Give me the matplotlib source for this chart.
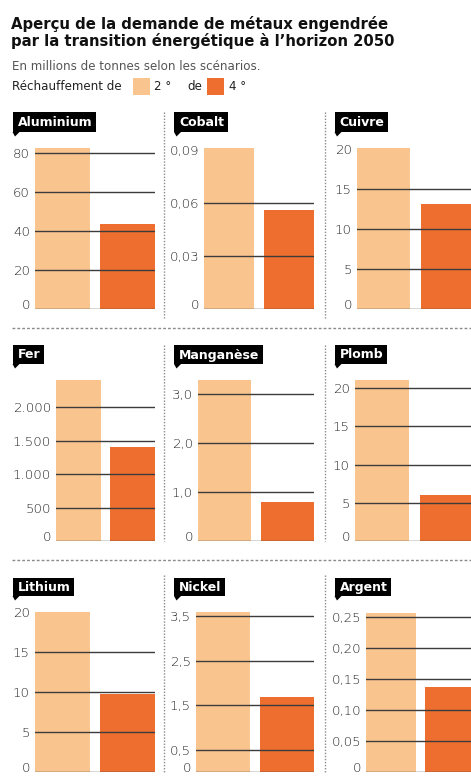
import matplotlib
matplotlib.use('Agg')
import matplotlib.pyplot as plt
from matplotlib.patches import Rectangle, Polygon
from matplotlib.lines import Line2D

### data (millions de tonnes) ###
metals      = ['Aluminium', 'Cobalt', 'Cuivre',
               'Fer', 'Manganèse', 'Plomb',
               'Lithium', 'Nickel', 'Argent']
demand_2deg = [82.2, 0.091, 20.1, 2410, 3.29, 21.0, 20.0, 3.6, 0.257]
demand_4deg = [43.4, 0.056, 13.1, 1405, 0.80, 6.0, 9.7, 1.7, 0.137]

tick_values = [[0, 20, 40, 60, 80], [0, 0.03, 0.06, 0.09], [0, 5, 10, 15, 20],
               [0, 500, 1000, 1500, 2000], [0, 1, 2, 3], [0, 5, 10, 15, 20],
               [0, 5, 10, 15, 20], [0, 0.5, 1.5, 2.5, 3.5],
               [0, 0.05, 0.10, 0.15, 0.20, 0.25]]
tick_labels = [['0', '20', '40', '60', '80'], ['0', '0,03', '0,06', '0,09'],
               ['0', '5', '10', '15', '20'],
               ['0', '500', '1.000', '1.500', '2.000'], ['0', '1,0', '2,0', '3,0'],
               ['0', '5', '10', '15', '20'],
               ['0', '5', '10', '15', '20'], ['0', '0,5', '1,5', '2,5', '3,5'],
               ['0', '0,05', '0,10', '0,15', '0,20', '0,25']]
# ticks that carry a label but no grid line
no_grid = {1: [0.09], 2: [20], 6: [20]}

### layout (pixels, origin top-left) ###
W, H = 471, 778
C_LIGHT = '#f9c48e'
C_DARK = '#ed6e2f'
GRID = '#3c3c3c'
FONT = 'DejaVu Sans'

ax_left  = [35, 204, 357, 56, 198, 355, 35, 196, 366]
ax_right = [155, 314, 474, 155, 314, 474, 155, 314, 475]
ymax     = [83.9, 0.0928, 20.5, 2485, 3.39, 21.7, 20.6, 3.71, 0.266]
row_base = [309, 541, 772.3]
row_top  = [145, 375, 607]
box_top  = [112, 345, 578]
box_bot  = [132, 364, 596]
box_left = [12.5, 174, 334.5]
vsep     = [(112, 318), (345, 541), (575, 772)]

fig = plt.figure(figsize=(W / 100, H / 100), dpi=100)

def fx(x):
    return x / W

def fy(y):
    return 1 - y / H

### header ###
fig.text(fx(11), fy(16), 'Aperçu de la demande de métaux engendrée\npar la transition énergétique à l\u2019horizon 2050',
         family=FONT, fontweight='bold', fontsize=10.7, color='#111111', va='top', ha='left', linespacing=1.1)
fig.text(fx(12), fy(67), 'En millions de tonnes selon les scénarios.',
         family=FONT, fontsize=8.6, color='#555555', va='center', ha='left')
fig.text(fx(12), fy(86), 'Réchauffement de', family=FONT, fontsize=8.6, color='#222222', va='center')
fig.add_artist(Rectangle((fx(133), fy(95)), fx(17), 17 / H, transform=fig.transFigure, color=C_LIGHT, lw=0))
fig.text(fx(154), fy(86), '2 °', family=FONT, fontsize=8.6, color='#222222', va='center')
fig.text(fx(187), fy(86), 'de', family=FONT, fontsize=8.6, color='#222222', va='center')
fig.add_artist(Rectangle((fx(207), fy(95)), fx(17), 17 / H, transform=fig.transFigure, color=C_DARK, lw=0))
fig.text(fx(229), fy(86), '4 °', family=FONT, fontsize=8.6, color='#222222', va='center')

renderer = fig.canvas.get_renderer()
w = 0.84

for i, name in enumerate(metals):
    row, col = divmod(i, 3)
    base, top = row_base[row], row_top[row]
    ax = fig.add_axes([fx(ax_left[i]), fy(base), fx(ax_right[i] - ax_left[i]), (base - top) / H])
    ax.bar([0, 1], [demand_2deg[i], demand_4deg[i]], width=w, color=[C_LIGHT, C_DARK], zorder=1)
    for v in tick_values[i]:
        if v in no_grid.get(i, []):
            continue
        ax.axhline(v, color=GRID, lw=1.0, zorder=3)
    ax.set_xlim(-w / 2, 1 + w / 2)
    ax.set_ylim(0, ymax[i])
    ax.set_xticks([])
    ax.set_yticks(tick_values[i], tick_labels[i])
    ax.tick_params(axis='y', length=0, pad=3.6, labelsize=9.6, labelcolor='#262626')
    for lbl in ax.get_yticklabels():
        lbl.set_family(FONT)
        lbl.set_fontweight('light')
    # the zero label sits on the base line
    ax.get_yticklabels()[0].set_verticalalignment('baseline')
    for s in ax.spines.values():
        s.set_visible(False)
    ax.patch.set_alpha(0)

    # black name tag with a small pointer
    bl, bt, bb = box_left[col], box_top[row], box_bot[row]
    t = fig.text(fx(bl + 5), fy((bt + bb) / 2 + 0.5), name, family=FONT, fontweight='bold',
                 fontsize=9.0, color='white', va='center', ha='left', zorder=6)
    tw = t.get_window_extent(renderer).width
    fig.add_artist(Rectangle((fx(bl), fy(bb)), fx(tw + 9), (bb - bt) / H,
                             transform=fig.transFigure, color='black', lw=0, zorder=5))
    fig.add_artist(Polygon([(fx(bl), fy(bb)), (fx(bl + 7), fy(bb)), (fx(bl + 2.5), fy(bb + 4.5))],
                           closed=True, transform=fig.transFigure, color='black', lw=0, zorder=5))

### separators ###
for (y0, y1) in vsep:
    for x in (164, 324.5):
        fig.add_artist(Line2D([fx(x), fx(x)], [fy(y0), fy(y1)], transform=fig.transFigure,
                              color='#8a8a8a', lw=1.0, ls=(0, (1, 1.2))))
for y in (327.7, 559.5):
    fig.add_artist(Line2D([fx(12), 1], [fy(y), fy(y)], transform=fig.transFigure,
                          color='#8a8a8a', lw=1.0, ls=(0, (2, 1.5))))

fig.savefig('out.png', dpi=100, facecolor='white')
